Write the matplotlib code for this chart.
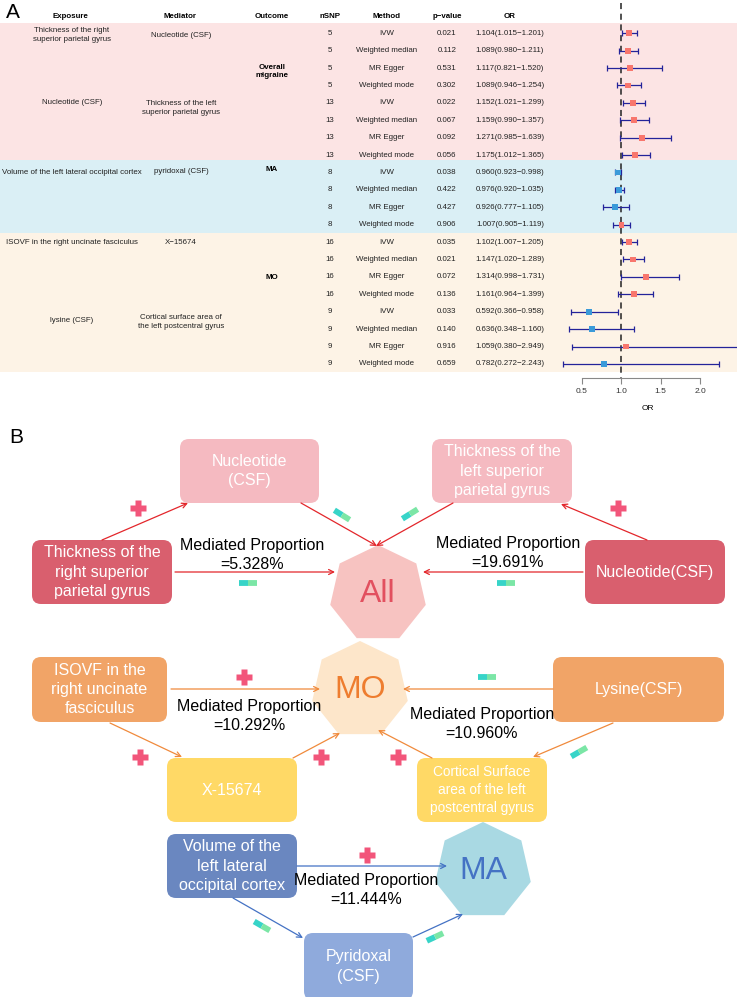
import matplotlib
matplotlib.use("Agg")
import matplotlib.pyplot as plt
import matplotlib.transforms as mtransforms
from matplotlib.patches import FancyBboxPatch, RegularPolygon, Rectangle
import numpy as np

plt.rcParams['font.family'] = ['Liberation Sans', 'DejaVu Sans']

# ---------------- panel A data ----------------
nsnp = [5, 5, 5, 5, 13, 13, 13, 13, 8, 8, 8, 8, 16, 16, 16, 16, 9, 9, 9, 9]
methods = ['IVW', 'Weighted median', 'MR Egger', 'Weighted mode'] * 5
pvals = ['0.021', '0.112', '0.531', '0.302', '0.022', '0.067', '0.092', '0.056',
         '0.038', '0.422', '0.427', '0.906', '0.035', '0.021', '0.072', '0.136',
         '0.033', '0.140', '0.916', '0.659']
or_val = [1.104, 1.089, 1.117, 1.089, 1.152, 1.159, 1.271, 1.175,
          0.960, 0.976, 0.926, 1.007, 1.102, 1.147, 1.314, 1.161,
          0.592, 0.636, 1.059, 0.782]
or_lo = [1.015, 0.980, 0.821, 0.946, 1.021, 0.990, 0.985, 1.012,
         0.923, 0.920, 0.777, 0.905, 1.007, 1.020, 0.998, 0.964,
         0.366, 0.348, 0.380, 0.272]
or_hi = [1.201, 1.211, 1.520, 1.254, 1.299, 1.357, 1.639, 1.365,
         0.998, 1.035, 1.105, 1.119, 1.205, 1.289, 1.731, 1.399,
         0.958, 1.160, 2.949, 2.243]

# group labels: (text, row)
exposures = [("Thickness of the right\nsuperior parietal gyrus", 1.1),
             ("Nucleotide (CSF)", 4.95),
             ("Volume of the left lateral occipital cortex", 9.0),
             ("ISOVF in the right uncinate fasciculus", 13.0),
             ("lysine (CSF)", 17.5)]
mediators = [("Nucleotide (CSF)", 1.1),
             ("Thickness of the left\nsuperior parietal gyrus", 5.3),
             ("pyridoxal (CSF)", 8.95),
             ("X\u221215674", 13.0),
             ("Cortical surface area of\nthe left postcentral gyrus", 17.6)]
outcomes = [("Overall\nmigraine", 3.2), ("MA", 8.85), ("MO", 15.05)]

fig = plt.figure(figsize=(7.37, 9.97), dpi=100)
ax = fig.add_axes([0, 0, 1, 1])
ax.set_xlim(0, 737)
ax.set_ylim(997, 0)
ax.axis('off')

# forest axes, placed so that OR 1.0 sits at x=621 px
fx0, fx1 = 540, 737
fy0, fy1 = 3, 378
ax2 = fig.add_axes([fx0 / 737, 1 - fy1 / 997, (fx1 - fx0) / 737, (fy1 - fy0) / 997])
pxu = 79.0
ax2.set_xlim(1 - (621 - fx0) / pxu, 1 + (fx1 - 621) / pxu)
rstep = 17.4


def prow(p):
    return (p - 33.3) / rstep + 1


ax2.set_ylim(prow(fy1), prow(fy0))
ax2.patch.set_alpha(0)

# backgrounds
for y0, y1, c in [(23, 160, '#FCE4E4'), (160, 233, '#DAEFF5'), (233, 372, '#FDF3E6')]:
    ax.add_patch(Rectangle((0, y0), 737, y1 - y0, color=c, lw=0, zorder=0))

rows = np.arange(1, 21)
tr = mtransforms.blended_transform_factory(ax.transData, ax2.transData)
fs = 5.7
tc = '#222222'
col_x = {'Exposure': 70, 'Mediator': 180, 'Outcome': 272, 'nSNP': 330,
         'Method': 387, 'p\u2212value': 447, 'OR': 510}
for k, x in col_x.items():
    ax.text(x, 16, k, ha='center', va='center', fontsize=fs, fontweight='bold')
for i, r in enumerate(rows):
    ax.text(col_x['nSNP'], r, str(nsnp[i]), transform=tr, ha='center', va='center', fontsize=fs, color=tc)
    ax.text(col_x['Method'], r, methods[i], transform=tr, ha='center', va='center', fontsize=fs, color=tc)
    ax.text(col_x['p\u2212value'], r, pvals[i], transform=tr, ha='center', va='center', fontsize=fs, color=tc)
    ax.text(col_x['OR'], r, '%.3f(%.3f\u2212%.3f)' % (or_val[i], or_lo[i], or_hi[i]),
            transform=tr, ha='center', va='center', fontsize=fs, color=tc)
for t, r in exposures:
    ax.text(72, r, t, transform=tr, ha='center', va='center', fontsize=fs, color=tc, linespacing=1.5)
for t, r in mediators:
    ax.text(181, r, t, transform=tr, ha='center', va='center', fontsize=fs, color=tc, linespacing=1.5)
for t, r in outcomes:
    ax.text(272, r, t, transform=tr, ha='center', va='center', fontsize=fs, fontweight='bold', linespacing=1.2)

ax.text(13, 12, 'A', ha='center', va='center', fontsize=15)
ax.text(16, 437, 'B', ha='center', va='center', fontsize=15)

# forest plot
or_arr = np.array(or_val)
ax2.plot([1, 1], [prow(fy0), prow(fy1)], color='#222', ls=(0, (4, 3)), lw=1.1, zorder=2)
ax2.errorbar(or_arr, rows, xerr=[or_arr - np.array(or_lo), np.array(or_hi) - or_arr],
             fmt='none', ecolor='#23239A', elinewidth=0.9, capsize=2.5, capthick=0.9, zorder=3)
cols = ['#F8766D' if v > 1 else '#3A9AD9' for v in or_val]
ax2.scatter(or_arr, rows, marker='s', s=18, c=cols, zorder=4, lw=0)
for s in ['top', 'right', 'left']:
    ax2.spines[s].set_visible(False)
ax2.spines['bottom'].set_bounds(0.5, 2.0)
ax2.spines['bottom'].set_color('#888888')
ax2.spines['bottom'].set_linewidth(0.8)
ax2.set_yticks([])
ax2.set_xticks([0.5, 1.0, 1.5, 2.0])
ax2.tick_params(axis='x', labelsize=6, length=4, width=0.8, color='#888888',
                labelcolor='#333333', pad=3)
ax2.set_xlabel('OR', fontsize=6)
ax2.xaxis.set_label_coords((648 - fx0) / (fx1 - fx0), -27 / (fy1 - fy0))

# ---------------- panel B ----------------
boxes = [
    ("Nucleotide\n(CSF)", 180, 439, 319, 503, '#F5BAC1', 11.5),
    ("Thickness of the\nleft superior\nparietal gyrus", 432, 439, 572, 503, '#F5BAC1', 11.5),
    ("Thickness of the\nright superior\nparietal gyrus", 32, 540, 172, 604, '#D95F6E', 11.5),
    ("Nucleotide(CSF)", 585, 540, 725, 604, '#D95F6E', 11.5),
    ("ISOVF in the\nright uncinate\nfasciculus", 32, 657, 167, 722, '#F1A467', 11.5),
    ("Lysine(CSF)", 553, 657, 724, 722, '#F1A467', 11.5),
    ("X-15674", 167, 758, 297, 822, '#FFD966', 11.5),
    ("Cortical Surface\narea of the left\npostcentral gyrus", 417, 758, 547, 822, '#FFD966', 9.8),
    ("Volume of the\nleft lateral\noccipital cortex", 167, 834, 297, 898, '#6A87C0', 11.5),
    ("Pyridoxal\n(CSF)", 304, 933, 413, 1000, '#8FAADC', 11.5),
]
for t, x0, y0, x1, y1, c, f in boxes:
    ax.add_patch(FancyBboxPatch((x0, y0), x1 - x0, y1 - y0,
                                boxstyle='round,pad=0,rounding_size=9', fc=c, ec='none', zorder=2))
    ax.text((x0 + x1) / 2, (y0 + y1) / 2, t, ha='center', va='center', color='white',
            fontsize=f, linespacing=1.35, zorder=3)

hepts = [("All", 378, 594, '#F7C3C1', '#E2505F'),
         ("MO", 360, 690, '#FDE6CA', '#EE7D2F'),
         ("MA", 483, 871, '#A9D9E3', '#4472C4')]
for t, x, y, fc, hc in hepts:
    ax.add_patch(RegularPolygon((x, y), 7, radius=49, orientation=np.pi, fc=fc, ec='none', zorder=2))
    ax.text(x, y, t, ha='center', va='center', fontsize=23, color=hc, zorder=3)

arrows = [
    ((102, 540), (188, 503), '#E3262B'),
    ((301, 503), (377, 546), '#E3262B'),
    ((175, 572), (335, 572), '#E3262B'),
    ((453, 503), (376, 546), '#E3262B'),
    ((647, 540), (561, 504), '#E3262B'),
    ((583, 572), (423, 572), '#E3262B'),
    ((171, 689), (320, 689), '#F08A3C'),
    ((110, 723), (182, 757), '#F08A3C'),
    ((293, 758), (340, 733), '#F08A3C'),
    ((553, 689), (403, 689), '#F08A3C'),
    ((613, 723), (533, 757), '#F08A3C'),
    ((432, 758), (378, 730), '#F08A3C'),
    ((297, 866), (447, 866), '#4472C4'),
    ((233, 898), (303, 938), '#4472C4'),
    ((413, 937), (463, 914), '#4472C4'),
]
for s, e, c in arrows:
    ax.annotate('', xy=e, xytext=s, zorder=4,
                arrowprops=dict(arrowstyle='->', color=c, lw=0.9, shrinkA=0, shrinkB=0, mutation_scale=9))

props = [("Mediated Proportion\n=5.328%", 252, 555),
         ("Mediated Proportion\n=19.691%", 508, 553),
         ("Mediated Proportion\n=10.292%", 249, 716),
         ("Mediated Proportion\n=10.960%", 482, 724),
         ("Mediated Proportion\n=11.444%", 366, 890)]
for t, x, y in props:
    ax.text(x, y, t, ha='center', va='center', fontsize=11.5, linespacing=1.3, zorder=5)

plus = [(138, 508), (618, 508), (244, 677), (140, 757), (321, 757), (398, 757), (367, 855)]
px_, py_ = zip(*plus)
ax.plot(px_, py_, 'P', ms=11, color='#F2557A', mec='none', zorder=5)

# minus signs: centre, angle (deg, screen, positive = down-right)
minus = [(342, 515, 32), (248, 583, 0), (410, 514, -32), (506, 583, 0),
         (487, 677, 0), (579, 752, -30), (262, 926, 30), (435, 937, -25)]
for x, y, a in minus:
    d = np.array([np.cos(np.radians(a)), np.sin(np.radians(a))]) * 9
    segs = [('#37D4C8', -1.0, 0.0), ('#7BE6A6', 0.0, 1.0)]
    for c, t0, t1 in segs:
        ax.plot([x + d[0] * t0, x + d[0] * t1], [y + d[1] * t0, y + d[1] * t1],
                color=c, lw=4.2, solid_capstyle='butt', zorder=5)

fig.savefig('out.png', dpi=100)
